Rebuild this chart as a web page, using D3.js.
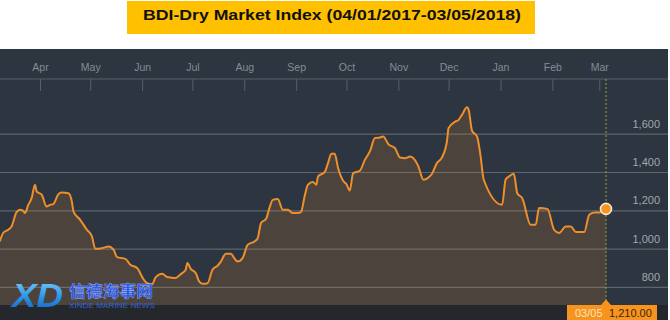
<!DOCTYPE html>
<html>
<head>
<meta charset="utf-8">
<script src="https://cdn.jsdelivr.net/npm/d3@7"></script>
<style>
  html, body { margin: 0; padding: 0; background: #fff; }
  svg { display: block; font-family: "Liberation Sans", Arial, sans-serif; }
</style>
</head>
<body>
<svg id="chart" width="670" height="320"></svg>
<script>
// ─── data ───────────────────────────────────────────────
const dates = [
  "2017-03-08","2017-03-10","2017-03-13","2017-03-15","2017-03-18","2017-03-20","2017-03-22","2017-03-23",
  "2017-03-25","2017-03-27","2017-03-29","2017-03-30","2017-04-02","2017-04-05","2017-04-07","2017-04-09",
  "2017-04-12","2017-04-14","2017-04-18","2017-04-20","2017-04-21","2017-04-25","2017-04-29","2017-05-02",
  "2017-05-04","2017-05-08","2017-05-12","2017-05-15","2017-05-17","2017-05-22","2017-05-25","2017-05-29",
  "2017-06-02","2017-06-04","2017-06-07","2017-06-09","2017-06-13","2017-06-16","2017-06-21","2017-06-24",
  "2017-06-27","2017-06-28","2017-06-30","2017-07-03","2017-07-05","2017-07-07","2017-07-10","2017-07-13",
  "2017-07-16","2017-07-18","2017-07-21","2017-07-24","2017-07-26","2017-07-28","2017-07-31","2017-08-03",
  "2017-08-07","2017-08-09","2017-08-11","2017-08-14","2017-08-16","2017-08-18","2017-08-21","2017-08-24",
  "2017-08-27","2017-08-30","2017-09-03","2017-09-04","2017-09-06","2017-09-08","2017-09-11","2017-09-13",
  "2017-09-14","2017-09-18","2017-09-20","2017-09-22","2017-09-24","2017-09-26","2017-09-29","2017-10-01",
  "2017-10-03","2017-10-05","2017-10-09","2017-10-12","2017-10-15","2017-10-18","2017-10-21","2017-10-23",
  "2017-10-26","2017-10-30","2017-11-02","2017-11-05","2017-11-08","2017-11-12","2017-11-13","2017-11-16",
  "2017-11-19","2017-11-21","2017-11-24","2017-11-27","2017-11-30","2017-12-01","2017-12-05","2017-12-07",
  "2017-12-09","2017-12-12","2017-12-13","2017-12-15","2017-12-18","2017-12-20","2017-12-22","2018-01-02",
  "2018-01-04","2018-01-06","2018-01-09","2018-01-11","2018-01-14","2018-01-19","2018-01-22","2018-01-24",
  "2018-01-29","2018-02-02","2018-02-05","2018-02-09","2018-02-12","2018-02-15","2018-02-20","2018-02-23",
  "2018-02-26","2018-03-01","2018-03-05"
];
const bdiValues = [
  1040,1084,1101,1118,1193,1205,1200,1188,
  1231,1266,1336,1301,1284,1222,1231,1235,
  1287,1296,1292,1249,1196,1153,1101,1066,
  1002,1005,1014,996,958,949,918,901,
  840,822,816,852,871,854,849,869,
  892,927,897,875,831,819,822,892,
  913,935,976,976,953,935,953,1022,
  1040,1057,1136,1158,1214,1257,1261,1205,
  1205,1188,1190,1196,1275,1336,1350,1336,
  1379,1402,1449,1498,1498,1423,1357,1339,
  1306,1397,1409,1466,1510,1580,1583,1588,
  1548,1527,1478,1475,1484,1449,1431,1362,
  1374,1392,1449,1478,1562,1632,1666,1675,
  1701,1741,1727,1618,1588,1492,1362,1231,
  1362,1379,1393,1292,1266,1127,1127,1214,
  1210,1101,1084,1118,1118,1089,1089,1179,
  1191,1191,1210
];
const monthTicks = ["2017-04-01","2017-05-01","2017-06-01","2017-07-01","2017-08-01","2017-09-01",
                    "2017-10-01","2017-11-01","2017-12-01","2018-01-01","2018-02-01","2018-03-01"];
const monthLabels = ["Apr","May","Jun","Jul","Aug","Sep","Oct","Nov","Dec","Jan","Feb","Mar"];
const yTicks = [800, 1000, 1200, 1400, 1600];
const titleText = "BDI-Dry Market Index (04/01/2017-03/05/2018)";
const lastDateLabel = "03/05";
const lastValueLabel = "1,210.00";

// ─── setup ──────────────────────────────────────────────
const parse = d3.timeParse("%Y-%m-%d");
const series = dates.map((d, i) => ({ date: parse(d), value: bdiValues[i] }));
const svg = d3.select("#chart");

const PANEL_TOP = 49, AXIS_Y = 79, PLOT_BOTTOM = 305, PANEL_RIGHT = 668;

const x = d3.scaleTime()
  .domain([parse("2017-04-01"), parse("2018-03-01")])
  .range([40, 599.3]);
const y = d3.scaleLinear()
  .domain([800, 1600])
  .range([287.4, 134.2]);

// title
svg.append("rect")
  .attr("x", 127).attr("y", 1).attr("width", 408).attr("height", 33)
  .attr("fill", "#ffc000");
svg.append("text")
  .attr("x", 143).attr("y", 20)
  .attr("textLength", 378).attr("lengthAdjust", "spacingAndGlyphs")
  .style("font-size", "15.5px").style("font-weight", "bold").attr("fill", "#111")
  .text(titleText);

// dark panel
svg.append("rect")
  .attr("x", 0).attr("y", PANEL_TOP).attr("width", PANEL_RIGHT).attr("height", 320 - PANEL_TOP)
  .attr("fill", "#2c3540");

// horizontal grid
svg.append("g").selectAll("line")
  .data(yTicks).enter().append("line")
  .attr("x1", 0).attr("x2", PANEL_RIGHT)
  .attr("y1", d => y(d)).attr("y2", d => y(d))
  .attr("stroke", "#5c656e").attr("stroke-width", 1.2);

// area + line
const area = d3.area()
  .x(d => x(d.date)).y0(PLOT_BOTTOM).y1(d => y(d.value))
  .curve(d3.curveMonotoneX);
const line = d3.line()
  .x(d => x(d.date)).y(d => y(d.value))
  .curve(d3.curveMonotoneX);

svg.append("path").datum(series)
  .attr("d", area)
  .attr("fill", "rgba(240,146,43,0.16)");
svg.append("path").datum(series)
  .attr("d", line)
  .attr("fill", "none").attr("stroke", "#ee8f2c").attr("stroke-width", 2)
  .attr("stroke-linejoin", "round");

// top month axis
const xAxis = d3.axisTop(x)
  .tickValues(monthTicks.map(parse))
  .tickSize(-12)
  .tickPadding(0)
  .tickFormat((d, i) => monthLabels[i]);
const axisG = svg.append("g").attr("transform", `translate(0,${AXIS_Y})`).call(xAxis);
axisG.select(".domain").remove();
axisG.selectAll(".tick line").attr("stroke", "#56606a");
axisG.selectAll(".tick text")
  .attr("y", -8).attr("dy", 0)
  .attr("fill", "#858c94")
  .style("font-size", "10.5px").style("font-family", "Liberation Sans, Arial, sans-serif");
svg.append("line")
  .attr("x1", 0).attr("x2", PANEL_RIGHT).attr("y1", AXIS_Y).attr("y2", AXIS_Y)
  .attr("stroke", "#56606a").attr("stroke-width", 1.2);

// right value labels
const yAxis = d3.axisLeft(y).tickValues(yTicks).tickSize(0).tickFormat(d3.format(","));
const yG = svg.append("g").attr("transform", "translate(660,0)").call(yAxis);
yG.select(".domain").remove();
yG.selectAll(".tick text")
  .attr("x", 0).attr("dy", -7)
  .attr("fill", "#a1a7ae")
  .style("font-size", "11px").style("font-family", "Liberation Sans, Arial, sans-serif");

// bottom bar
svg.append("rect")
  .attr("x", 0).attr("y", PLOT_BOTTOM).attr("width", PANEL_RIGHT).attr("height", 320 - PLOT_BOTTOM)
  .attr("fill", "#24272c");

// current value cursor
const last = series[series.length - 1];
const lx = x(last.date), ly = y(last.value);
svg.append("line")
  .attr("x1", lx).attr("x2", lx).attr("y1", AXIS_Y).attr("y2", PLOT_BOTTOM)
  .attr("stroke", "#a09c3e").attr("stroke-width", 1).attr("stroke-dasharray", "2,2");
svg.append("circle")
  .attr("cx", lx).attr("cy", ly).attr("r", 5.5)
  .attr("fill", "#f7941d").attr("stroke", "#f6e7d6").attr("stroke-width", 1.6);

// bottom value tag
svg.append("rect")
  .attr("x", 567).attr("y", PLOT_BOTTOM).attr("width", 90).attr("height", 15)
  .attr("fill", "#f7941d");
svg.append("path")
  .attr("d", `M${lx - 5},${PLOT_BOTTOM} L${lx},${PLOT_BOTTOM - 5.5} L${lx + 5},${PLOT_BOTTOM} Z`)
  .attr("fill", "#f7941d");
svg.append("text")
  .attr("x", 575).attr("y", 317)
  .attr("fill", "#fde2c0").style("font-size", "11px")
  .text(lastDateLabel);
svg.append("text")
  .attr("x", 609).attr("y", 317)
  .attr("fill", "#3d250f").style("font-size", "11px")
  .text(lastValueLabel);

// watermark logo
const defs = svg.append("defs");
const grad = defs.append("linearGradient").attr("id", "xdGrad")
  .attr("x1", 0).attr("y1", 0).attr("x2", 0).attr("y2", 1);
grad.append("stop").attr("offset", "0%").attr("stop-color", "#7fd0ff");
grad.append("stop").attr("offset", "55%").attr("stop-color", "#2a95e8");
grad.append("stop").attr("offset", "100%").attr("stop-color", "#0b5bb8");
svg.append("text")
  .attr("x", 12).attr("y", 307)
  .attr("textLength", 51).attr("lengthAdjust", "spacingAndGlyphs")
  .style("font-size", "33px").style("font-weight", "bold").style("font-style", "italic")
  .attr("fill", "url(#xdGrad)")
  .text("XD");
svg.append("text")
  .attr("x", 69).attr("y", 297)
  .attr("textLength", 84).attr("lengthAdjust", "spacingAndGlyphs")
  .style("font-size", "16px").style("font-family", "Noto Sans CJK SC, sans-serif").style("font-weight", "bold")
  .attr("fill", "#1f4fe0").attr("stroke", "#9fb4ff").attr("stroke-width", 0.4)
  .text("信德海事网");
svg.append("text")
  .attr("x", 69).attr("y", 307.5)
  .attr("textLength", 86).attr("lengthAdjust", "spacingAndGlyphs")
  .style("font-size", "8px")
  .attr("fill", "#2f63d8")
  .text("XINDE MARINE NEWS");
</script>
</body>
</html>
